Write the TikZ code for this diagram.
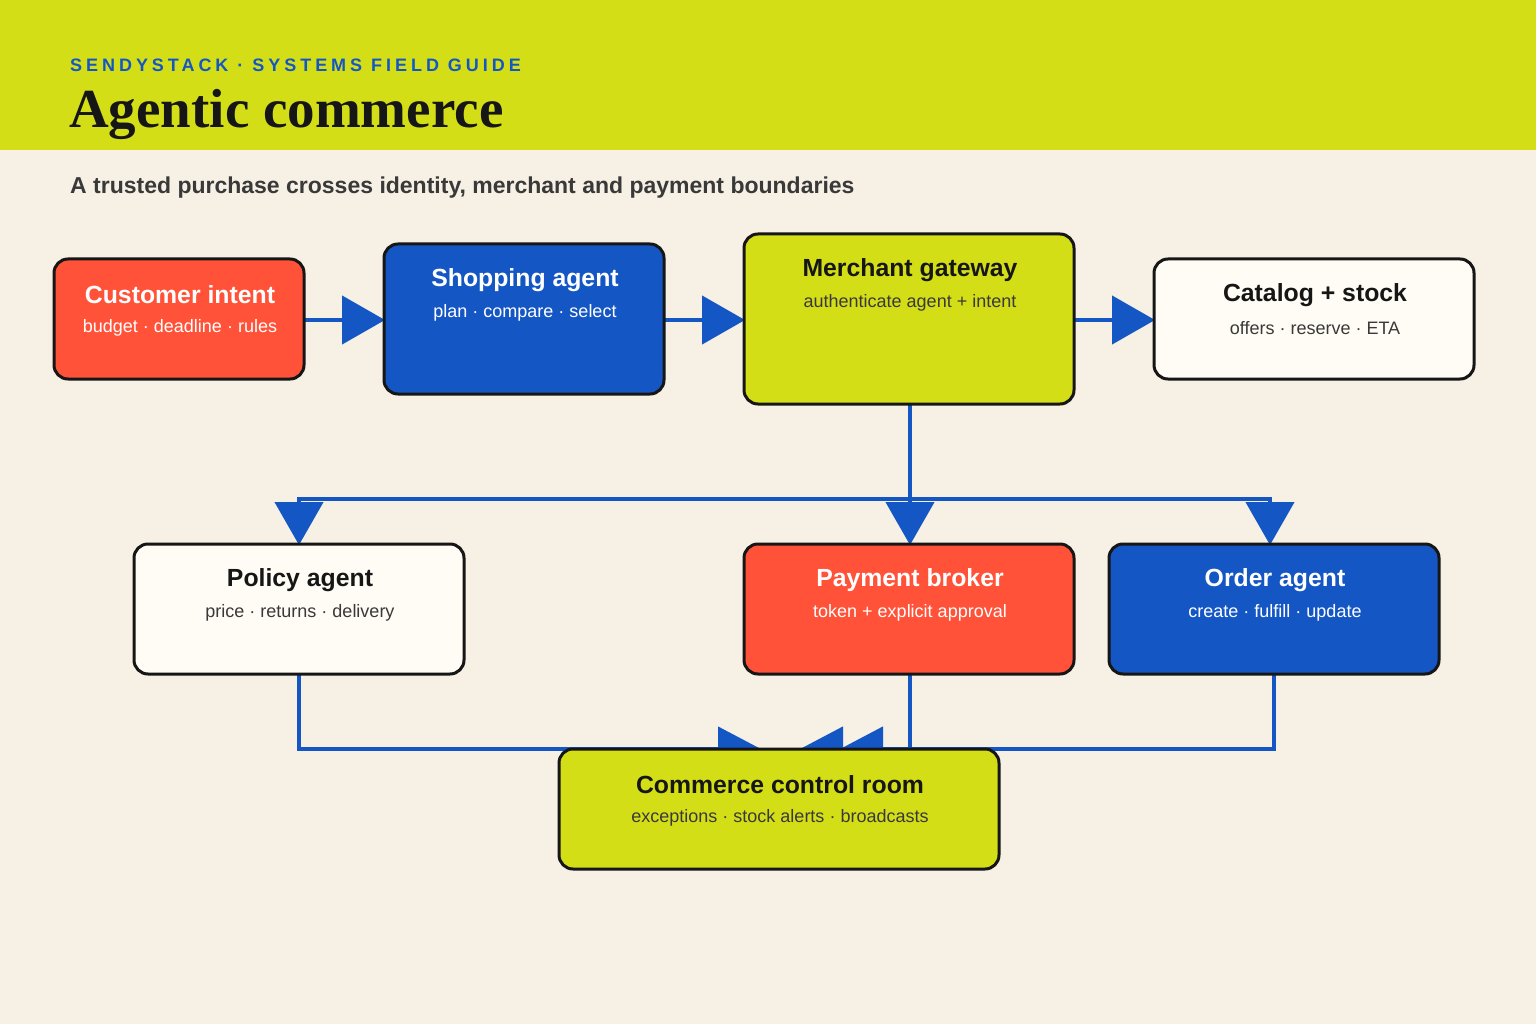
\documentclass[tikz,border=0pt]{standalone}
\usepackage{fontspec}
\setmainfont{Liberation Sans}
\newfontfamily\titlefont{Liberation Serif}
\usetikzlibrary{arrows.meta}
\definecolor{bg}{HTML}{F6F0E5}
\definecolor{lime}{HTML}{D4DE17}
\definecolor{cred}{HTML}{FF5238}
\definecolor{cblue}{HTML}{1457C4}
\definecolor{cwhite}{HTML}{FFFCF5}
\definecolor{ink}{HTML}{161616}
\begin{document}
\begin{tikzpicture}[x=1pt,y=-1pt,
 box/.style={draw=ink,line width=3pt,rounded corners=14pt,anchor=north west,inner sep=0pt,outer sep=0pt},
 ttl/.style={font=\fontsize{24.8}{28}\selectfont\bfseries},
 sub/.style={font=\fontsize{18}{20}\selectfont},
 con/.style={draw=cblue,line width=4.5pt},
 tip/.style={-{Triangle[length=43pt,width=48pt]}}]
\useasboundingbox (0,0) rectangle (1536,1024);
\fill[bg] (0,0) rectangle (1536,1024);
\fill[lime] (0,0) rectangle (1536,150);
\node[anchor=west,inner sep=0pt,text=cblue,font=\fontsize{18}{20}\selectfont\bfseries\addfontfeatures{LetterSpace=22}] (brand) at (70,65) {SENDYSTACK · SYSTEMS FIELD GUIDE};
\node[anchor=west,inner sep=0pt,text=ink,font=\titlefont\fontsize{55}{60}\selectfont\bfseries] (title) at (69,114) {Agentic commerce};
\node[anchor=west,inner sep=0pt,text=ink!85,font=\fontsize{23}{26}\selectfont\bfseries] (subt) at (70,188) {A trusted purchase crosses identity, merchant and payment boundaries};

% connectors (drawn under boxes)
\coordinate (cust) at (305,320); \coordinate (shopL) at (385,320);
\coordinate (shopR) at (665,320); \coordinate (merL) at (745,320);
\coordinate (merR) at (1075,320); \coordinate (catL) at (1155,320);
\draw[con,tip] (cust) -- (shopL);
\draw[con,tip] (shopR) -- (merL);
\draw[con,tip] (merR) -- (catL);
\coordinate (merB) at (910,405); \coordinate (bus) at (910,499);
\coordinate (polT) at (299,545); \coordinate (payT) at (910,545); \coordinate (ordT) at (1270,545);
\draw[con] (merB) -- (bus);
\draw[con,tip] (bus) -| (polT);
\draw[con,tip] (bus) -- (payT);
\draw[con,tip] (bus) -| (ordT);
\coordinate (polB) at (299,675); \coordinate (payB) at (910,675); \coordinate (ordB) at (1274,675);
\coordinate (c1) at (761,749); \coordinate (c2) at (800,749); \coordinate (c3) at (840,749);
\draw[con,-{Triangle[length=43pt,width=44pt]}] (polB) |- (c1);
\draw[con,-{Triangle[length=43pt,width=44pt]}] (payB) |- (c2);
\draw[con,-{Triangle[length=43pt,width=44pt]}] (ordB) |- (c3);

% boxes
\node[box,fill=cred,minimum width=250pt,minimum height=120pt] (b1) at (54,259) {};
\node[ttl,text=white] at (180,295) {Customer intent};
\node[sub,text=white] at (180,328) {budget · deadline · rules};
\node[box,fill=cblue,minimum width=280pt,minimum height=150pt] (b2) at (384,244) {};
\node[ttl,text=white] at (525,280) {Shopping agent};
\node[sub,text=white] at (525,313) {plan · compare · select};
\node[box,fill=lime,minimum width=330pt,minimum height=170pt] (b3) at (744,234) {};
\node[ttl,text=ink] at (910,270) {Merchant gateway};
\node[sub,text=ink!85] at (910,303) {authenticate agent + intent};
\node[box,fill=cwhite,minimum width=320pt,minimum height=120pt] (b4) at (1154,259) {};
\node[ttl,text=ink] at (1315,295) {Catalog + stock};
\node[sub,text=ink!85] at (1315,328) {offers · reserve · ETA};
\node[box,fill=cwhite,minimum width=330pt,minimum height=130pt] (b5) at (134,544) {};
\node[ttl,text=ink] at (300,580) {Policy agent};
\node[sub,text=ink!85] at (300,613) {price · returns · delivery};
\node[box,fill=cred,minimum width=330pt,minimum height=130pt] (b6) at (744,544) {};
\node[ttl,text=white] at (910,580) {Payment broker};
\node[sub,text=white] at (910,613) {token + explicit approval};
\node[box,fill=cblue,minimum width=330pt,minimum height=130pt] (b7) at (1109,544) {};
\node[ttl,text=white] at (1275,580) {Order agent};
\node[sub,text=white] at (1275,613) {create · fulfill · update};
\node[box,fill=lime,minimum width=440pt,minimum height=120pt] (b8) at (559,749) {};
\node[ttl,text=ink] at (780,785) {Commerce control room};
\node[sub,text=ink!85] at (780,818) {exceptions · stock alerts · broadcasts};
\end{tikzpicture}
\end{document}
